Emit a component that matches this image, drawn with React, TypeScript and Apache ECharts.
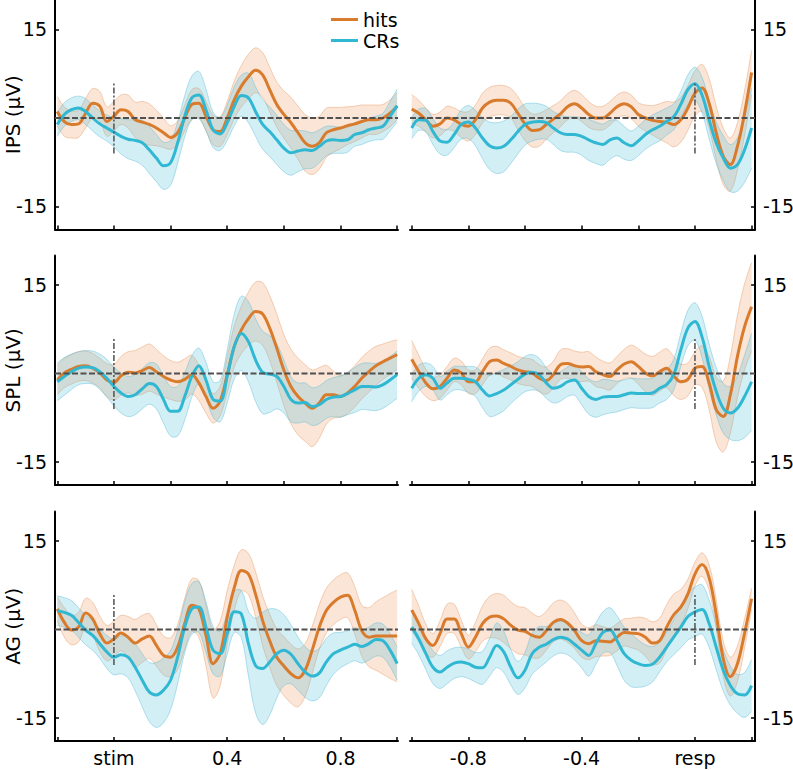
import React, { useEffect, useRef } from "react";
import * as echarts from "echarts";

// ---- time bases (s) ----
const T_STIM = [-0.2, -0.175, -0.15, -0.125, -0.1, -0.075, -0.05, -0.025, 0, 0.025, 0.05, 0.075, 0.1, 0.125, 0.15, 0.175, 0.2, 0.225, 0.25, 0.275, 0.3, 0.325, 0.35, 0.375, 0.4, 0.425, 0.45, 0.475, 0.5, 0.525, 0.55, 0.575, 0.6, 0.625, 0.65, 0.675, 0.7, 0.725, 0.75, 0.775, 0.8, 0.825, 0.85, 0.875, 0.9, 0.925, 0.95, 0.975, 1.0];
const T_RESP = [-1.0, -0.975, -0.95, -0.925, -0.9, -0.875, -0.85, -0.825, -0.8, -0.775, -0.75, -0.725, -0.7, -0.675, -0.65, -0.625, -0.6, -0.575, -0.55, -0.525, -0.5, -0.475, -0.45, -0.425, -0.4, -0.375, -0.35, -0.325, -0.3, -0.275, -0.25, -0.225, -0.2, -0.175, -0.15, -0.125, -0.1, -0.075, -0.05, -0.025, 0, 0.025, 0.05, 0.075, 0.1, 0.125, 0.15, 0.175, 0.2];

// ---- tick values / labels ----
const STIM_TICKS = [-0.2, 0, 0.2, 0.4, 0.6, 0.8, 1.0];
const RESP_TICKS = [-1.0, -0.8, -0.6, -0.4, -0.2, 0, 0.2];
const STIM_LABEL_VALUES = [0, 0.4, 0.8];
const STIM_LABELS = ["stim", "0.4", "0.8"];
const RESP_LABEL_VALUES = [-0.8, -0.4, 0];
const RESP_LABELS = ["-0.8", "-0.4", "resp"];
const Y_TICKS = [-15, 15];
const REGION_NAMES = ["IPS (μV)", "SPL (μV)", "AG (μV)"];
const LEGEND_NAMES = ["hits", "CRs"];

// ---- IPS ----
const IPS_STIM_HITS = [1.1, -0.6, -1.1, -1.0, 0.8, 2.5, 2.0, -0.6, 0.3, 1.4, 1.1, -0.3, -0.7, -1.1, -1.7, -2.5, -3.3, -2.5, 0.0, 2.3, 2.5, 0.3, -2.0, -2.3, 0.0, 3.1, 5.4, 7.0, 8.1, 7.3, 4.8, 2.3, 0.6, -0.8, -2.5, -4.2, -4.8, -4.2, -2.5, -2.0, -1.7, -1.3, -1.0, -0.6, -0.3, -0.3, 0.0, 0.8, 2.0];
const IPS_STIM_HITS_SEM = [2.5, 2.5, 2.3, 2.3, 2.5, 2.5, 2.5, 2.5, 2.5, 2.5, 2.8, 3.0, 3.5, 3.5, 3.0, 2.5, 2.0, 2.0, 2.2, 2.5, 2.5, 2.5, 2.5, 2.5, 2.8, 3.2, 3.5, 3.8, 3.8, 3.8, 3.8, 3.8, 4.0, 4.3, 4.5, 4.8, 4.8, 4.5, 4.2, 3.8, 3.5, 3.2, 3.0, 2.8, 2.5, 2.5, 2.3, 2.3, 2.3];
const IPS_STIM_CRS = [-1.1, 0.6, 1.4, 1.7, 1.1, 0.0, -1.0, -1.7, -2.4, -3.1, -3.6, -3.8, -4.2, -5.4, -6.8, -8.1, -7.6, -4.2, 0.3, 3.4, 3.9, 1.4, -2.0, -2.7, -0.8, 2.0, 3.8, 3.4, 1.1, -1.1, -2.3, -3.7, -5.1, -5.9, -5.6, -5.4, -5.5, -4.8, -3.9, -3.7, -3.8, -3.7, -2.8, -2.5, -2.0, -1.7, -1.4, 0.3, 2.1];
const IPS_STIM_CRS_SEM = [2.0, 2.0, 2.0, 2.0, 2.2, 2.2, 2.2, 2.2, 2.5, 3.0, 3.3, 3.5, 3.8, 4.0, 4.0, 4.0, 3.8, 3.5, 3.5, 3.7, 4.0, 3.5, 3.0, 2.8, 3.0, 3.3, 3.5, 4.2, 4.2, 4.2, 4.2, 4.2, 4.0, 3.8, 3.5, 3.2, 3.0, 2.8, 2.5, 2.3, 2.2, 2.1, 2.0, 2.0, 2.0, 2.0, 2.2, 2.5, 2.8];
const IPS_RESP_HITS = [1.5, 0.8, -0.3, -1.4, -1.0, 0.0, -0.3, -1.1, -1.4, -0.3, 1.7, 2.7, 3.0, 3.0, 2.5, 0.8, -1.0, -2.1, -2.0, -1.1, -0.2, 0.7, 1.9, 2.4, 1.7, 0.6, 0.0, 0.0, 0.8, 1.9, 2.4, 1.9, 0.6, 0.0, -0.4, -0.6, -0.7, -1.1, -0.3, 1.7, 4.2, 5.1, 2.5, -2.5, -6.5, -7.9, -4.8, 0.8, 7.7];
const IPS_RESP_HITS_SEM = [2.5, 2.2, 2.0, 2.0, 2.0, 2.0, 2.0, 2.2, 2.5, 2.5, 2.5, 2.5, 2.5, 2.5, 2.5, 2.8, 2.8, 2.8, 2.8, 2.5, 2.3, 2.2, 2.2, 2.3, 2.3, 2.2, 2.0, 2.0, 2.0, 2.0, 2.0, 2.0, 2.0, 2.2, 2.5, 3.0, 3.5, 3.8, 3.8, 3.8, 3.8, 4.0, 4.2, 4.5, 4.8, 4.5, 4.0, 3.8, 3.8];
const IPS_RESP_CRS = [-1.7, -0.3, -0.4, -2.3, -3.9, -4.1, -2.8, -1.1, -0.7, -1.7, -3.4, -4.7, -5.1, -4.8, -3.7, -2.3, -1.1, -0.7, -0.6, -0.8, -1.7, -2.5, -2.8, -2.8, -3.1, -3.7, -4.2, -4.5, -3.7, -3.4, -4.2, -4.7, -3.9, -2.8, -2.0, -1.4, -0.6, 0.2, 2.3, 4.8, 5.8, 3.9, -0.3, -4.2, -6.8, -8.5, -7.9, -5.4, -1.7];
const IPS_RESP_CRS_SEM = [1.8, 1.8, 2.0, 2.2, 2.2, 2.2, 2.2, 2.5, 2.8, 3.0, 3.5, 4.0, 4.3, 4.3, 4.0, 3.8, 3.5, 3.2, 3.0, 2.8, 2.8, 3.0, 3.0, 3.0, 3.2, 3.5, 3.5, 3.5, 3.3, 3.0, 2.8, 2.5, 2.5, 2.5, 2.5, 2.5, 2.3, 2.2, 2.2, 2.5, 2.8, 3.0, 3.2, 3.5, 3.8, 4.0, 4.5, 5.5, 6.8];

// ---- SPL ----
const SPL_STIM_HITS = [-1.1, 0.1, 0.7, 1.2, 1.3, 0.9, 0.1, -1.1, -1.5, -0.4, 0.2, 0.1, 0.5, 1.0, 0.3, -0.5, -1.1, -1.4, -1.0, -0.2, -1.6, -3.9, -5.9, -4.7, -0.2, 4.6, 7.4, 9.3, 10.5, 10.1, 7.7, 4.3, 0.6, -2.2, -3.9, -5.0, -5.9, -5.0, -3.6, -3.6, -3.9, -3.3, -2.2, -0.8, 0.3, 1.3, 2.0, 2.6, 3.2];
const SPL_STIM_HITS_SEM = [2.5, 2.5, 2.5, 2.5, 2.5, 2.5, 2.5, 2.8, 3.0, 3.3, 3.5, 3.8, 4.0, 4.0, 3.8, 3.5, 3.3, 3.3, 3.5, 3.3, 3.0, 2.8, 2.5, 2.5, 3.0, 3.5, 4.0, 4.5, 5.0, 5.3, 5.5, 5.8, 6.0, 6.3, 6.5, 6.5, 6.5, 6.0, 5.0, 4.0, 3.5, 3.5, 3.5, 3.5, 3.5, 3.3, 3.0, 2.8, 2.5];
const SPL_STIM_CRS = [-1.4, -0.5, 0.3, 0.9, 1.1, 1.0, 0.3, -0.8, -2.2, -3.3, -3.9, -3.6, -2.6, -1.7, -2.2, -4.4, -6.4, -6.4, -3.9, -0.5, 1.3, -1.1, -4.4, -4.7, -0.5, 4.6, 6.8, 5.4, 2.3, 0.2, -0.1, -0.5, -2.2, -4.4, -5.0, -4.9, -5.6, -5.3, -4.4, -4.0, -3.9, -3.4, -2.8, -2.2, -2.2, -2.3, -1.9, -1.1, -0.2];
const SPL_STIM_CRS_SEM = [3.2, 3.2, 3.0, 2.8, 2.8, 2.8, 3.0, 3.2, 3.3, 3.4, 3.4, 3.4, 3.4, 3.5, 3.8, 4.0, 4.2, 4.2, 4.0, 3.5, 3.0, 3.0, 3.0, 3.5, 4.5, 5.5, 6.3, 6.8, 7.0, 7.0, 6.5, 5.5, 4.5, 3.8, 3.4, 3.3, 3.2, 3.2, 3.2, 3.3, 3.5, 3.6, 3.8, 3.9, 4.0, 4.0, 4.0, 4.0, 4.0];
const SPL_RESP_HITS = [2.4, 0.3, -1.6, -2.6, -2.2, -0.8, 0.6, 0.1, -1.4, -1.4, 0.3, 2.0, 2.3, 1.7, 1.2, 0.6, 0.3, 0.1, -0.8, -1.2, -0.2, 1.5, 1.7, 1.3, 1.1, 1.2, 0.3, -0.2, -0.5, 0.6, 1.6, 2.0, 1.2, 0.1, -0.4, 0.3, 0.9, -0.4, -1.4, -1.0, 0.9, 1.2, -1.6, -6.1, -7.3, -3.6, 2.9, 7.9, 11.3];
const SPL_RESP_HITS_SEM = [3.2, 2.8, 2.3, 2.0, 2.0, 2.0, 2.0, 2.0, 2.0, 2.0, 2.2, 2.3, 2.3, 2.3, 2.3, 2.3, 2.3, 2.3, 2.3, 2.3, 2.3, 2.5, 2.5, 2.5, 2.5, 2.5, 2.5, 2.3, 2.3, 2.3, 2.5, 2.8, 3.0, 3.2, 3.3, 3.3, 3.3, 3.3, 3.0, 2.8, 2.8, 3.5, 4.5, 5.5, 6.0, 6.5, 7.0, 7.3, 7.5];
const SPL_RESP_CRS = [-2.5, -0.8, -0.2, -0.8, -2.5, -1.6, -0.8, -0.8, -1.0, -1.4, -2.8, -3.8, -3.4, -2.8, -1.9, -1.0, -0.1, 0.2, -0.2, -1.6, -2.5, -2.2, -1.4, -1.1, -2.5, -3.9, -4.4, -4.0, -3.9, -3.9, -3.6, -3.3, -3.4, -3.4, -3.3, -2.5, -1.9, -0.2, 4.0, 7.7, 8.8, 6.2, 1.2, -3.0, -5.9, -6.7, -5.9, -3.9, -1.4];
const SPL_RESP_CRS_SEM = [2.3, 2.2, 2.0, 2.0, 2.0, 2.0, 2.0, 2.0, 2.2, 2.5, 3.0, 3.5, 3.6, 3.5, 3.2, 3.0, 3.0, 3.0, 2.8, 2.6, 2.5, 2.5, 2.5, 2.6, 2.8, 3.0, 3.0, 3.0, 2.8, 2.6, 2.5, 2.5, 2.5, 2.5, 2.5, 2.5, 2.5, 2.6, 2.8, 3.0, 3.2, 3.5, 3.8, 4.0, 4.2, 4.5, 5.5, 7.0, 8.2];

// ---- AG ----
const AG_STIM_HITS = [3.5, 1.2, -0.1, 0.4, 2.8, 1.8, -0.7, -2.3, -1.6, -0.6, -1.3, -2.3, -1.6, -1.1, -2.7, -4.4, -4.7, -3.0, 1.0, 4.1, 3.5, -1.0, -5.8, -4.1, 2.1, 7.1, 10.0, 9.4, 6.0, 1.5, -1.9, -4.7, -6.2, -7.5, -8.2, -6.9, -3.5, 0.4, 3.2, 4.6, 5.5, 5.8, 3.3, -0.2, -1.3, -1.1, -1.1, -1.1, -1.1];
const AG_STIM_HITS_SEM = [2.0, 2.5, 2.5, 2.5, 2.5, 2.8, 3.0, 3.0, 3.0, 3.0, 3.5, 4.0, 4.0, 3.8, 3.5, 3.3, 3.3, 3.8, 4.3, 4.5, 4.8, 5.2, 5.8, 5.5, 4.5, 3.8, 3.5, 3.5, 3.8, 4.2, 4.5, 4.8, 5.0, 5.0, 4.9, 4.5, 4.0, 3.8, 3.8, 3.8, 3.8, 3.8, 4.0, 4.3, 5.0, 5.8, 6.5, 7.2, 7.8];
const AG_STIM_CRS = [3.2, 2.9, 2.4, 1.2, -0.1, -1.0, -2.4, -3.8, -4.7, -4.3, -4.7, -6.4, -8.6, -10.6, -11.1, -10.3, -8.6, -4.7, 0.4, 3.5, 3.8, 0.4, -3.5, -4.1, -0.7, 3.0, 2.6, -2.4, -6.1, -6.6, -5.5, -4.1, -3.5, -4.2, -5.8, -7.2, -7.9, -7.4, -5.5, -4.1, -3.5, -3.0, -2.5, -2.9, -2.4, -1.7, -1.9, -3.5, -5.8];
const AG_STIM_CRS_SEM = [2.5, 2.5, 2.5, 2.5, 2.5, 2.5, 2.5, 2.8, 3.0, 3.2, 3.5, 4.0, 4.5, 5.0, 5.5, 5.5, 5.0, 4.5, 4.3, 4.3, 4.3, 4.3, 4.0, 3.8, 3.5, 3.5, 4.0, 5.5, 8.0, 9.5, 9.0, 7.5, 6.0, 5.0, 4.5, 4.3, 4.2, 4.2, 4.0, 3.5, 3.0, 2.8, 2.8, 2.8, 2.8, 2.8, 2.8, 2.8, 2.8];
const AG_RESP_HITS = [3.3, 1.0, -1.6, -2.7, -0.7, 1.8, 1.8, -0.7, -3.0, -1.3, 1.0, 2.1, 2.3, 1.8, 0.7, -0.1, -0.3, -1.0, -1.3, -0.2, 1.2, 1.7, 1.1, -0.2, -1.9, -2.4, -1.9, -2.0, -2.1, -1.3, -0.5, -0.6, -0.7, -1.3, -2.3, -1.9, 0.4, 2.5, 3.8, 6.0, 9.4, 11.0, 8.8, 2.6, -5.0, -8.0, -5.8, -0.7, 5.2];
const AG_RESP_HITS_SEM = [3.5, 3.0, 2.5, 2.0, 2.2, 2.5, 2.5, 2.3, 2.0, 2.5, 3.0, 3.5, 3.8, 4.0, 4.0, 4.0, 4.0, 3.8, 3.5, 3.3, 3.3, 3.3, 3.3, 3.0, 2.8, 2.7, 2.7, 2.5, 2.3, 2.3, 2.3, 2.5, 2.8, 3.2, 3.6, 3.8, 3.8, 3.5, 3.0, 2.5, 2.0, 2.0, 2.2, 2.5, 3.0, 3.3, 3.0, 2.5, 1.8];
const AG_RESP_CRS = [0.4, -1.6, -4.1, -6.4, -7.2, -6.4, -5.7, -5.5, -5.8, -6.4, -6.5, -4.7, -2.7, -3.8, -6.4, -8.2, -6.9, -4.1, -3.0, -2.5, -1.7, -1.3, -1.6, -2.5, -3.5, -4.4, -2.4, -0.5, -0.1, -1.9, -4.1, -5.2, -5.8, -6.1, -5.9, -4.7, -3.0, -1.3, 0.4, 2.2, 3.0, 3.4, 1.0, -3.0, -6.9, -9.5, -10.9, -11.1, -9.5];
const AG_RESP_CRS_SEM = [2.7, 2.7, 2.7, 2.8, 2.8, 2.8, 2.6, 2.5, 2.5, 2.5, 2.8, 3.2, 3.8, 3.5, 3.0, 2.8, 3.0, 3.5, 3.5, 3.0, 2.8, 2.7, 2.7, 2.7, 3.0, 3.5, 3.5, 3.5, 3.8, 4.2, 4.5, 4.5, 4.0, 3.5, 3.0, 2.5, 2.5, 3.0, 3.5, 4.0, 4.2, 4.2, 4.0, 3.8, 3.5, 3.3, 3.3, 3.8, 4.4];

// ---- layout / style ----
const FONT = "DejaVu Sans";
const GRID_LEFT = [55, 410];
const GRID_WIDTH = [343, 345];
const ROW_TOP = [0, 255.5, 511.5];
const ROW_HEIGHT = 229.5;
const X_RANGE = [[-0.208, 1.003], [-1.006, 0.212]];
const Y_MIN = -18.9;
const Y_MAX = 20;
const MARKER_HALF = 6;
const SMOOTH = 0.35;

const COLORS = [
  { line: "#D97B2C", fill: "rgba(240,150,90,0.25)", edge: "rgba(232,160,110,0.6)" },
  { line: "#30B8D3", fill: "rgba(80,190,220,0.25)", edge: "rgba(90,185,215,0.55)" },
];

const PANELS = [
  [
    [IPS_STIM_HITS, IPS_STIM_HITS_SEM, IPS_STIM_CRS, IPS_STIM_CRS_SEM],
    [IPS_RESP_HITS, IPS_RESP_HITS_SEM, IPS_RESP_CRS, IPS_RESP_CRS_SEM],
  ],
  [
    [SPL_STIM_HITS, SPL_STIM_HITS_SEM, SPL_STIM_CRS, SPL_STIM_CRS_SEM],
    [SPL_RESP_HITS, SPL_RESP_HITS_SEM, SPL_RESP_CRS, SPL_RESP_CRS_SEM],
  ],
  [
    [AG_STIM_HITS, AG_STIM_HITS_SEM, AG_STIM_CRS, AG_STIM_CRS_SEM],
    [AG_RESP_HITS, AG_RESP_HITS_SEM, AG_RESP_CRS, AG_RESP_CRS_SEM],
  ],
];

function labelFor(values: number[], labels: string[], v: number) {
  for (let i = 0; i < values.length; i++) {
    if (Math.abs(values[i] - v) < 1e-6) return labels[i];
  }
  return "";
}

function bandSeries(g: number, T: number[], mean: number[], sem: number[], col: any) {
  const lower = mean.map((m, i) => m - sem[i]);
  const upper = mean.map((m, i) => m + sem[i]);
  return {
    type: "custom",
    xAxisIndex: g,
    yAxisIndex: g,
    silent: true,
    clip: true,
    z: 1,
    data: T.map((t, i) => [t, lower[i], upper[i]]),
    encode: { x: 0, y: [1, 2] },
    renderItem: (params: any, api: any) => {
      if (params.dataIndex !== 0) return null;
      const up = T.map((t, i) => api.coord([t, upper[i]]));
      const lo = T.map((t, i) => api.coord([t, lower[i]]));
      const loRev = lo.slice().reverse();
      const polyPts = [up[0], ...up, up[up.length - 1], loRev[0], ...loRev, loRev[loRev.length - 1]];
      return {
        type: "group",
        children: [
          {
            type: "polygon",
            shape: { points: polyPts, smooth: SMOOTH },
            style: { fill: col.fill, stroke: null },
          },
          {
            type: "polyline",
            shape: { points: up, smooth: SMOOTH },
            style: { fill: null, stroke: col.edge, lineWidth: 0.8 },
          },
          {
            type: "polyline",
            shape: { points: lo, smooth: SMOOTH },
            style: { fill: null, stroke: col.edge, lineWidth: 0.8 },
          },
        ],
      };
    },
  };
}

function buildOption() {
  const grid: any[] = [];
  const xAxis: any[] = [];
  const yAxis: any[] = [];
  const series: any[] = [];

  for (let r = 0; r < 3; r++) {
    for (let c = 0; c < 2; c++) {
      const g = r * 2 + c;
      const T = c === 0 ? T_STIM : T_RESP;
      grid.push({
        left: GRID_LEFT[c],
        width: GRID_WIDTH[c],
        top: ROW_TOP[r],
        height: ROW_HEIGHT,
        containLabel: false,
        outerBoundsMode: "none",
      });
      const labelVals = c === 0 ? STIM_LABEL_VALUES : RESP_LABEL_VALUES;
      const labelTxt = c === 0 ? STIM_LABELS : RESP_LABELS;
      xAxis.push({
        type: "value",
        gridIndex: g,
        min: X_RANGE[c][0],
        max: X_RANGE[c][1],
        axisLine: { show: true, onZero: false, lineStyle: { color: "#000", width: 2 } },
        axisTick: { show: true, inside: true, length: 4, customValues: c === 0 ? STIM_TICKS : RESP_TICKS, lineStyle: { color: "#000", width: 1.5 } },
        axisLabel: {
          show: r === 2,
          customValues: labelVals,
          formatter: (v: number) => labelFor(labelVals, labelTxt, v),
          fontSize: 19,
          fontFamily: FONT,
          color: "#000",
          margin: 7,
        },
        splitLine: { show: false },
      });
      yAxis.push({
        type: "value",
        gridIndex: g,
        position: c === 0 ? "left" : "right",
        min: Y_MIN,
        max: Y_MAX,
        name: c === 0 ? REGION_NAMES[r] : "",
        nameLocation: "middle",
        nameRotate: 90,
        nameGap: 32,
        nameMoveOverlap: false,
        nameTextStyle: { fontSize: 20, fontFamily: FONT, color: "#000" },
        axisLine: { show: true, onZero: false, lineStyle: { color: "#000", width: 2 } },
        axisTick: { show: true, inside: true, length: 4, customValues: Y_TICKS, lineStyle: { color: "#000", width: 1.5 } },
        axisLabel: { show: true, customValues: Y_TICKS, fontSize: 19, fontFamily: FONT, color: "#000", margin: 8 },
        splitLine: { show: false },
      });

      const data = PANELS[r][c];
      const conds = [
        { mean: data[0], sem: data[1] },
        { mean: data[2], sem: data[3] },
      ];
      conds.forEach((cd, k) => {
        series.push(bandSeries(g, T, cd.mean, cd.sem, COLORS[k]));
      });
      series.push({
        name: `zero-${g}`,
        type: "line",
        xAxisIndex: g,
        yAxisIndex: g,
        data: [[X_RANGE[c][0], 0], [X_RANGE[c][1], 0]],
        symbol: "none",
        silent: true,
        z: 4,
        lineStyle: { color: "#505050", width: 1.8, type: [6, 2.5] },
      });
      series.push({
        name: `onset-${g}`,
        type: "line",
        xAxisIndex: g,
        yAxisIndex: g,
        data: [[0, -MARKER_HALF], [0, MARKER_HALF]],
        symbol: "none",
        silent: true,
        z: 4,
        lineStyle: { color: "#505050", width: 1.5, type: [6, 2, 2, 2] },
      });
      conds.forEach((cd, k) => {
        series.push({
          name: LEGEND_NAMES[k],
          type: "line",
          xAxisIndex: g,
          yAxisIndex: g,
          data: T.map((t, i) => [t, cd.mean[i]]),
          smooth: SMOOTH,
          symbol: "none",
          silent: true,
          z: 3,
          color: COLORS[k].line,
          lineStyle: { color: COLORS[k].line, width: 3 },
        });
      });
    }
  }

  return {
    animation: false,
    textStyle: { fontFamily: FONT },
    legend: {
      data: LEGEND_NAMES,
      orient: "vertical",
      left: 326,
      top: 5,
      icon: "rect",
      itemWidth: 27,
      itemHeight: 3,
      itemGap: 2,
      selectedMode: false,
      textStyle: { fontSize: 19, fontFamily: FONT, color: "#000" },
    },
    grid,
    xAxis,
    yAxis,
    series,
  };
}

export default function App() {
  const ref = useRef<HTMLDivElement>(null);
  useEffect(() => {
    if (!ref.current) return;
    const chart = echarts.init(ref.current, undefined, { renderer: "svg" });
    chart.setOption(buildOption() as any);
    return () => chart.dispose();
  }, []);
  return (
    <div
      ref={ref}
      style={{ position: "fixed", left: 0, top: 0, width: 793, height: 770, background: "#fff" }}
    />
  );
}
